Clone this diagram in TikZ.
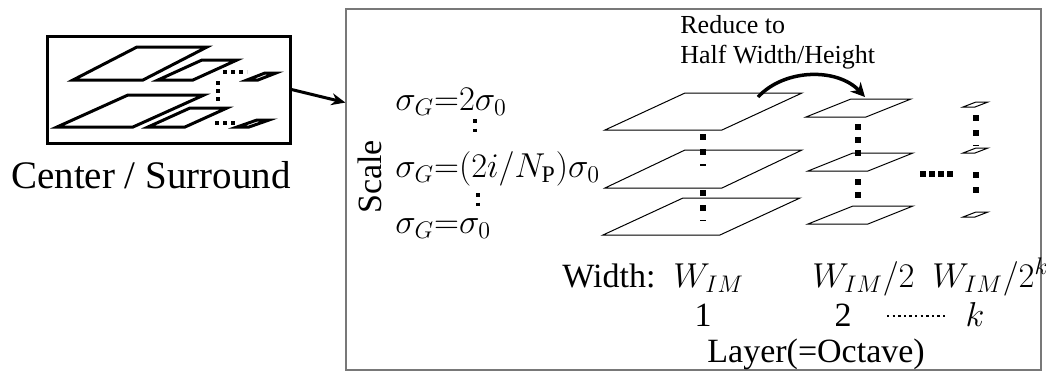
\documentclass[tikz,border=0pt]{standalone}
\usepackage{amsmath}
\usepackage{fontspec}
\setmainfont{Liberation Serif}
\usetikzlibrary{arrows.meta,positioning,calc}
\definecolor{framegray}{RGB}{120,120,120}

\tikzset{
  plate/.style={draw=black,line width=0.5pt,fill=white},
  iconplate/.style={draw=black,line width=1.5pt,fill=white},
  bigdots/.style={line width=3pt,dash pattern=on 3pt off 4.5pt},
  icondots/.style={line width=2pt,dash pattern=on 2pt off 2pt},
  scaledots/.style={line width=1.75pt,dash pattern=on 1.75pt off 3pt},
  txt/.style={inner sep=0pt,anchor=base west,font=\fontsize{17}{20}\selectfont},
}
% bottom-left corner, width, height, skew
\newcommand{\plategram}[5][plate]{\draw[#1] (#2) -- ++(#3,0) -- ++(#5,-#4) -- ++(-#3,0) -- cycle;}

\begin{document}
\begin{tikzpicture}[x=0.5pt,y=-0.5pt]
        \useasboundingbox (0,0) rectangle (1046,376);
        % center / surround icon
        \node[draw=black,line width=1.5pt,minimum width=121.5pt,minimum height=53.5pt,inner sep=0pt] (cs) at (168.5,89.5) {};
        \plategram[iconplate]{73,80}{70}{33}{64}
        \plategram[iconplate]{158,80}{35}{20}{44}
        \plategram[iconplate]{247,80}{11}{7}{18}
        \plategram[iconplate]{57,127}{76}{32}{71}
        \plategram[iconplate]{148,127}{37}{19}{42}
        \plategram[iconplate]{237,127}{12}{7}{20}
        \draw[icondots] (223,72) -- (247,72);
        \draw[icondots] (218,81) -- (218,104);
        \draw[icondots] (215,123) -- (237,123);
        \node[inner sep=0pt,anchor=base,font=\fontsize{19.5}{22}\selectfont] (cslabel) at (151,188) {Center / Surround};

        % pyramid frame
        \node[draw=framegray,line width=0.6pt,minimum width=347.5pt,minimum height=180.5pt,inner sep=0pt] (pyr) at (693.5,189.5) {};
        \draw[-{Stealth[length=7pt,width=6pt]},line width=1.5pt] (cs.east) -- ($(pyr.north west)!0.26!(pyr.south west)$);

        % scale labels
        \node[rotate=90,inner sep=0pt,font=\fontsize{17}{20}\selectfont] (scale) at (370,177) {Scale};
        \node[txt] (sigtop) at (395,110) {$\sigma_G{=}2\sigma_0$};
        \node[txt] (sigmid) at (395,177) {$\sigma_G{=}(2i/N_{\mathrm{P}})\sigma_0$};
        \node[txt] (sigbot) at (395,233) {$\sigma_G{=}\sigma_0$};
        \draw[scaledots] (475,119) -- (475,136);
        \draw[scaledots] (478,193) -- (478,210);

        % layer 1
        \plategram{605,130}{117}{37}{80}
        \plategram{605,188}{117}{38}{80}
        \plategram{603,235}{117}{37}{80}
        \draw[bigdots] (703,134) -- (703,166);
        \draw[bigdots] (703,190) -- (703,221);
        % layer 2
        \plategram{806,117}{60}{18}{45}
        \plategram{808,171}{60}{18}{45}
        \plategram{808,224}{60}{18}{45}
        \draw[bigdots,dash pattern=on 3pt off 3.5pt] (858,124) -- (858,157);
        \draw[bigdots,dash pattern=on 3pt off 3.5pt] (858,179) -- (858,201);
        % layer k
        \plategram{963,107}{12}{5}{13}
        \plategram{963,153}{12}{5}{13}
        \plategram{963,217}{12}{5}{13}
        \draw[bigdots] (976,115) -- (976,146);
        \draw[bigdots] (976,172) -- (976,201);
        \draw[bigdots,dash pattern=on 3pt off 1.5pt] (920,174) -- (954,174);

        % reduce arrow
        \node[txt,font=\fontsize{13}{15}\selectfont] (reduce) at (680,33) {Reduce to};
        \node[txt,font=\fontsize{13}{15}\selectfont] (half) at (680,63) {Half Width/Height};
        \coordinate (from) at (758,97);
        \coordinate (to) at (865,97);
        \draw[-{Stealth[length=7pt,width=7pt]},line width=1.75pt] (from) .. controls (785,68) and (838,68) .. (to);

        % width / layer labels
        \node[txt] (width) at (562,287) {Width:};
        \node[txt] (w1) at (673,287) {$W_{IM}$};
        \node[txt] (w2) at (812,287) {$W_{IM}/2$};
        \node[txt] (wk) at (932,287) {$W_{IM}/2^k$};
        \node[txt,anchor=base] (n1) at (703,326) {1};
        \node[txt,anchor=base] (n2) at (843,326) {2};
        \node[txt,anchor=base] (nk) at (975,326) {$k$};
        \coordinate (dl) at (887,316);
        \coordinate (dr) at (947,316);
        \draw[line width=1.2pt,dash pattern=on 1.2pt off 1.6pt] (dl) -- (dr);
        \node[txt] (layer) at (707,362) {Layer(=Octave)};
      \end{tikzpicture}
\end{document}
